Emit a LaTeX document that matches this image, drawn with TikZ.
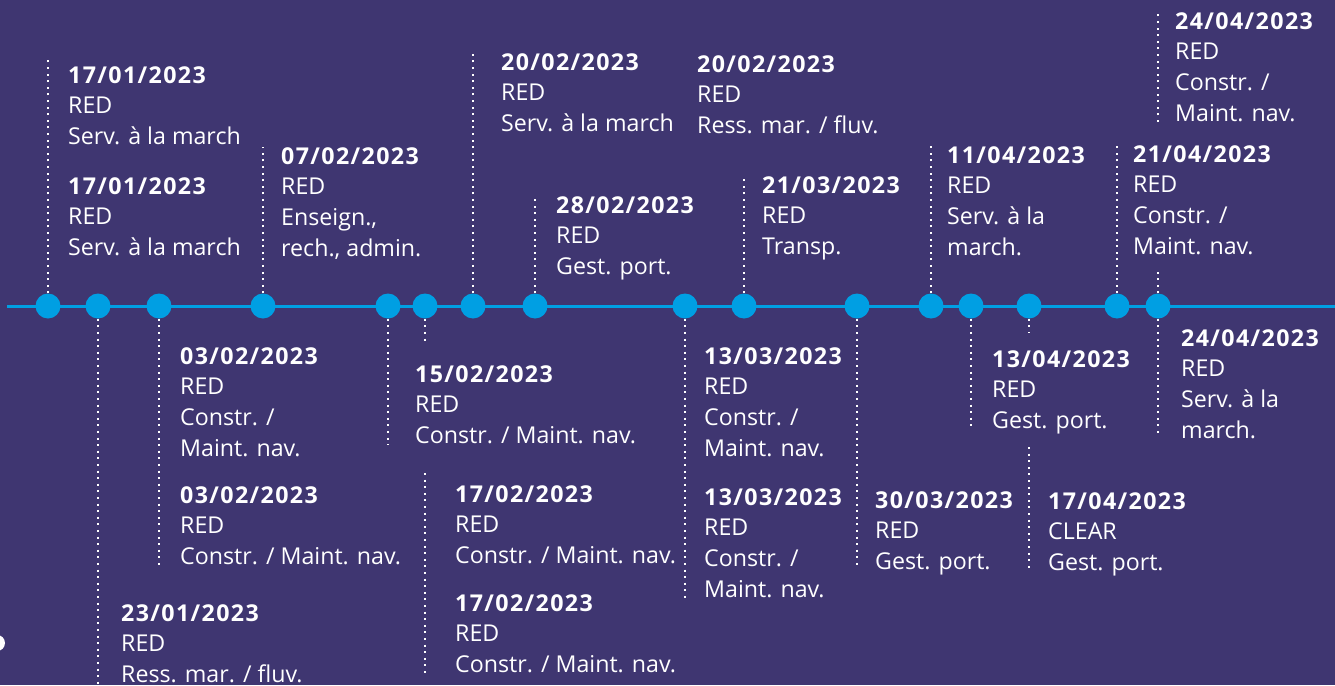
\documentclass[tikz,border=0pt]{standalone}
\usepackage{fontspec}
\setmainfont[BoldFeatures={LetterSpace=6}]{Open Sans}
\definecolor{bgcol}{HTML}{3F3671}
\definecolor{tlblue}{HTML}{009FE3}
\tikzset{
  evdot/.style={circle, fill=tlblue, minimum size=25pt, inner sep=0pt},
  stemline/.style={white, line width=2pt, dash pattern=on 2pt off 4.6pt},
  lbl/.style={white, anchor=north west, inner sep=0pt, align=left,
    font=\fontsize{23.2}{30.7}\selectfont},
}
\newcommand{\dt}[1]{\textbf{#1}}

\begin{document}
\begin{tikzpicture}[x=1pt, y=-1pt]
\useasboundingbox (0,0) rectangle (1335,685);
\fill[bgcol] (0,0) rectangle (1335,685);
\fill[white] (-3,643) circle (8);

% timeline
\coordinate (tlstart) at (7,306);
\coordinate (tlend) at (1340,306);
\draw[tlblue, line width=3pt] (tlstart) -- (tlend);

% stem ends
\coordinate (a1) at (48,58);
\coordinate (a2) at (263,147);
\coordinate (a3) at (473,52);
\coordinate (a4) at (535,197);
\coordinate (a5) at (744,177);
\coordinate (a6) at (931,146);
\coordinate (a7) at (1117,146);
\coordinate (a8) at (1158,270);
\coordinate (a9top) at (1158,13);
\coordinate (a9bot) at (1158,122);
\coordinate (b1) at (98,685);
\coordinate (b2) at (159,565);
\coordinate (b3) at (388,445);
\coordinate (b4) at (425,343);
\coordinate (b4top) at (425,473);
\coordinate (b4bot) at (425,673);
\coordinate (b5) at (685,600);
\coordinate (b6) at (857,568);
\coordinate (b7) at (971,430);
\coordinate (b8) at (1029,333);
\coordinate (b8top) at (1029,447);
\coordinate (b8bot) at (1029,568);
\coordinate (b9) at (1158,437);

% dots
\node[evdot] (d1) at (48,306) {};
\node[evdot] (d2) at (98,306) {};
\node[evdot] (d3) at (159,306) {};
\node[evdot] (d4) at (263,306) {};
\node[evdot] (d5) at (388,306) {};
\node[evdot] (d6) at (425,306) {};
\node[evdot] (d7) at (473,306) {};
\node[evdot] (d8) at (535,306) {};
\node[evdot] (d9) at (685,306) {};
\node[evdot] (d10) at (744,306) {};
\node[evdot] (d11) at (857,306) {};
\node[evdot] (d12) at (931,306) {};
\node[evdot] (d13) at (971,306) {};
\node[evdot] (d14) at (1029,306) {};
\node[evdot] (d15) at (1117,306) {};
\node[evdot] (d16) at (1158,306) {};

% stems
\draw[stemline] (d1.north) -- (a1);
\draw[stemline] (d4.north) -- (a2);
\draw[stemline] (d7.north) -- (a3);
\draw[stemline] (d8.north) -- (a4);
\draw[stemline] (d10.north) -- (a5);
\draw[stemline] (d12.north) -- (a6);
\draw[stemline] (d15.north) -- (a7);
\draw[stemline] (d16.north) -- (a8);
\draw[stemline] (a9bot) -- (a9top);
\draw[stemline] (d2.south) -- (b1);
\draw[stemline] (d3.south) -- (b2);
\draw[stemline] (d5.south) -- (b3);
\draw[stemline] (d6.south) -- (b4);
\draw[stemline] (b4top) -- (b4bot);
\draw[stemline] (d9.south) -- (b5);
\draw[stemline] (d11.south) -- (b6);
\draw[stemline] (d13.south) -- (b7);
\draw[stemline] (d14.south) -- (b8);
\draw[stemline] (b8top) -- (b8bot);
\draw[stemline] (d16.south) -- (b9);

% labels above
\node[lbl] (l1a) at (68,66) {\dt{17/01/2023}\\RED\\Serv. à la march};
\node[lbl] (l1b) at (68,177) {\dt{17/01/2023}\\RED\\Serv. à la march};
\node[lbl] (l2) at (281,147) {\dt{07/02/2023}\\RED\\Enseign.,\\rech., admin.};
\node[lbl] (l3) at (501,53) {\dt{20/02/2023}\\RED\\Serv. à la march};
\node[lbl] (l4) at (697,55) {\dt{20/02/2023}\\RED\\Ress. mar. / fluv.};
\node[lbl] (l5) at (556,196) {\dt{28/02/2023}\\RED\\Gest. port.};
\node[lbl] (l6) at (762,176) {\dt{21/03/2023}\\RED\\Transp.};
\node[lbl] (l7) at (947,146) {\dt{11/04/2023}\\RED\\Serv. à la\\march.};
\node[lbl] (l8) at (1133,145) {\dt{21/04/2023}\\RED\\Constr. /\\Maint. nav.};
\node[lbl] (l9) at (1175,12) {\dt{24/04/2023}\\RED\\Constr. /\\Maint. nav.};

% labels below
\node[lbl] (l10) at (121,604) {\dt{23/01/2023}\\RED\\Ress. mar. / fluv.};
\node[lbl] (l11a) at (180,347) {\dt{03/02/2023}\\RED\\Constr. /\\Maint. nav.};
\node[lbl] (l11b) at (180,486) {\dt{03/02/2023}\\RED\\Constr. / Maint. nav.};
\node[lbl] (l12) at (415,365) {\dt{15/02/2023}\\RED\\Constr. / Maint. nav.};
\node[lbl] (l13a) at (455,485) {\dt{17/02/2023}\\RED\\Constr. / Maint. nav.};
\node[lbl] (l13b) at (455,594) {\dt{17/02/2023}\\RED\\Constr. / Maint. nav.};
\node[lbl] (l14a) at (704,347) {\dt{13/03/2023}\\RED\\Constr. /\\Maint. nav.};
\node[lbl] (l14b) at (704,488) {\dt{13/03/2023}\\RED\\Constr. /\\Maint. nav.};
\node[lbl] (l15) at (875,491) {\dt{30/03/2023}\\RED\\Gest. port.};
\node[lbl] (l16) at (992,350) {\dt{13/04/2023}\\RED\\Gest. port.};
\node[lbl] (l17) at (1048,492) {\dt{17/04/2023}\\CLEAR\\Gest. port.};
\node[lbl] (l18) at (1181,329) {\dt{24/04/2023}\\RED\\Serv. à la\\march.};
\end{tikzpicture}
\end{document}
